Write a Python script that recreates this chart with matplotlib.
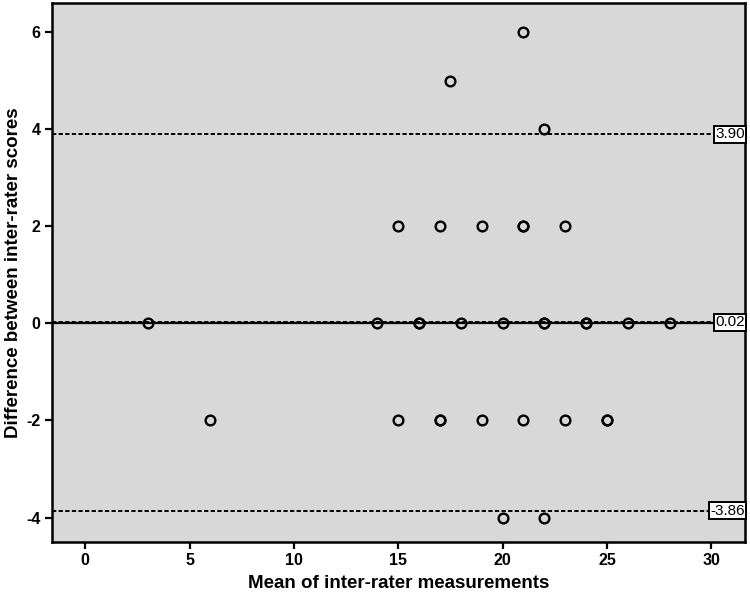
import numpy as np
import matplotlib
matplotlib.use("Agg")
import matplotlib.pyplot as plt

plt.rcParams['font.family'] = ['Liberation Sans', 'DejaVu Sans']
plt.rcParams['axes.unicode_minus'] = False

# mean of the two raters vs. their difference
mean_vals = [21, 17.5, 22,
             15, 17, 19, 21, 21, 23,
             3, 14, 16, 16, 18, 20, 22, 22, 24, 24, 26, 28,
             6, 15, 17, 17, 19, 21, 23, 25, 25,
             20, 22]
diff_vals = [6, 5, 4,
             2, 2, 2, 2, 2, 2,
             0, 0, 0, 0, 0, 0, 0, 0, 0, 0, 0, 0,
             -2, -2, -2, -2, -2, -2, -2, -2, -2,
             -4, -4]

mean_diff = 0.02
upper_loa = 3.90
lower_loa = -3.86

x_ticks = [0, 5, 10, 15, 20, 25, 30]
y_ticks = [-4, -2, 0, 2, 4, 6]

fig = plt.figure(figsize=(7.5, 5.98), dpi=100)
ax = fig.add_axes([0.069, 0.094, 0.924, 0.901])
ax.set_facecolor('#d8d8d8')

ax.axhline(0, color='black', lw=1.6, zorder=2)
for val in (upper_loa, mean_diff, lower_loa):
    ax.axhline(val, color='black', lw=1.4, ls=(0, (2.2, 1.2)), zorder=3)
    ax.text(1.0, val, "%.2f" % val, transform=ax.get_yaxis_transform(),
            ha='right', va='center', fontsize=11, zorder=5,
            bbox=dict(boxstyle='square,pad=0.1', fc='white', ec='black', lw=1.4))

ax.plot(mean_vals, diff_vals, 'o', mfc='none', mec='black', ms=7, mew=1.7, zorder=4)

ax.set_xlim(-1.6, 31.6)
ax.set_ylim(-4.5, 6.6)
ax.set_xticks(x_ticks)
ax.set_yticks(y_ticks)
ax.tick_params(direction='out', length=5, width=1.6, labelsize=11.5, pad=3)
for lbl in ax.get_xticklabels() + ax.get_yticklabels():
    lbl.set_fontweight('bold')
for sp in ax.spines.values():
    sp.set_linewidth(1.8)

ax.set_xlabel("Mean of inter-rater measurements", fontsize=13.5, fontweight='bold', labelpad=5)
ax.set_ylabel("Difference between inter-rater scores", fontsize=13.5, fontweight='bold', labelpad=3)

fig.savefig("out.png", dpi=100)
